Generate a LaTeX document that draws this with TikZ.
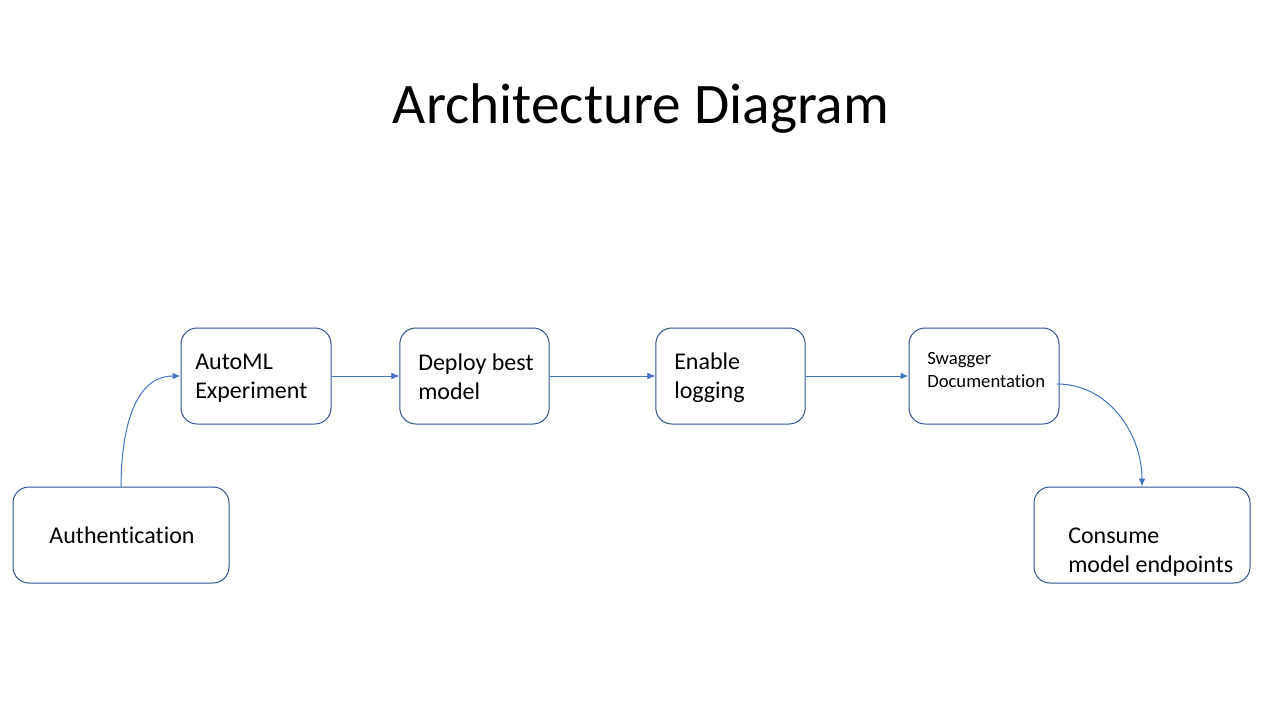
\documentclass[tikz,border=0pt]{standalone}
\usepackage{fontspec}
\setmainfont{Carlito}[Ligatures=NoCommon]
\usepackage{xcolor}
\usepackage{tikz}
\usetikzlibrary{positioning}
\usetikzlibrary{arrows.meta}
\definecolor{boxblue}{HTML}{2F528F}
\definecolor{linkblue}{HTML}{4472C4}
\tikzset{
	stepbox/.style={draw=boxblue,line width=0.75pt,rounded corners=12pt,minimum width=#1,minimum height=72pt,inner sep=0pt},
	steptext/.style={inner sep=0pt,align=left,font=\fontsize{18}{21.8}\selectfont},
	link/.style={-{Latex[length=6pt,width=5pt]},linkblue,line width=0.75pt}
}

\begin{document}
\begin{tikzpicture}[x=0.75pt,y=-0.75pt]
		\fill[white] (0,0) rectangle (1280,720);
		\useasboundingbox (0,0) rectangle (1280,720);
		\node[inner sep=0pt,font=\fontsize{43}{50}\selectfont] (title) at (641,109) {Architecture Diagram};
		% boxes
		\node[stepbox=112.5pt] (automl) at (256,376) {};
		\node[stepbox=112pt] (deploy) at (474.5,376) {};
		\node[stepbox=112pt] (logging) at (730.5,376) {};
		\node[stepbox=112.5pt] (swagger) at (984,376) {};
		\node[stepbox=162pt] (auth) at (121,535) {};
		\node[stepbox=162pt] (consume) at (1142,535) {};
		% texts
		\node[steptext,anchor=west] (automl text) at (195,378) {AutoML\\Experiment};
		\node[steptext,anchor=west] (deploy text) at (418,377) {Deploy best\\model};
		\node[steptext,anchor=west] (logging text) at (674,378) {Enable\\logging};
		\node[steptext,anchor=west,font=\fontsize{14}{17.2}\selectfont] (swagger text) at (927,370) {Swagger\\Documentation};
		\node[steptext] (auth text) at (122,535) {Authentication};
		\node[steptext,anchor=west] (consume text) at (1068,552) {Consume\\model endpoints};
		% connectors
		\draw[link] (auth.north) to[out=90,in=180] (automl.west);
		\draw[link] (automl) -- (deploy);
		\draw[link] (deploy) -- (logging);
		\draw[link] (logging) -- (swagger);
		\coordinate (swagger out) at ([xshift=-2,yshift=-6]swagger.east);
		\draw[link] (swagger out) to[out=0,in=90] (consume.north);
	\end{tikzpicture}
\end{document}
